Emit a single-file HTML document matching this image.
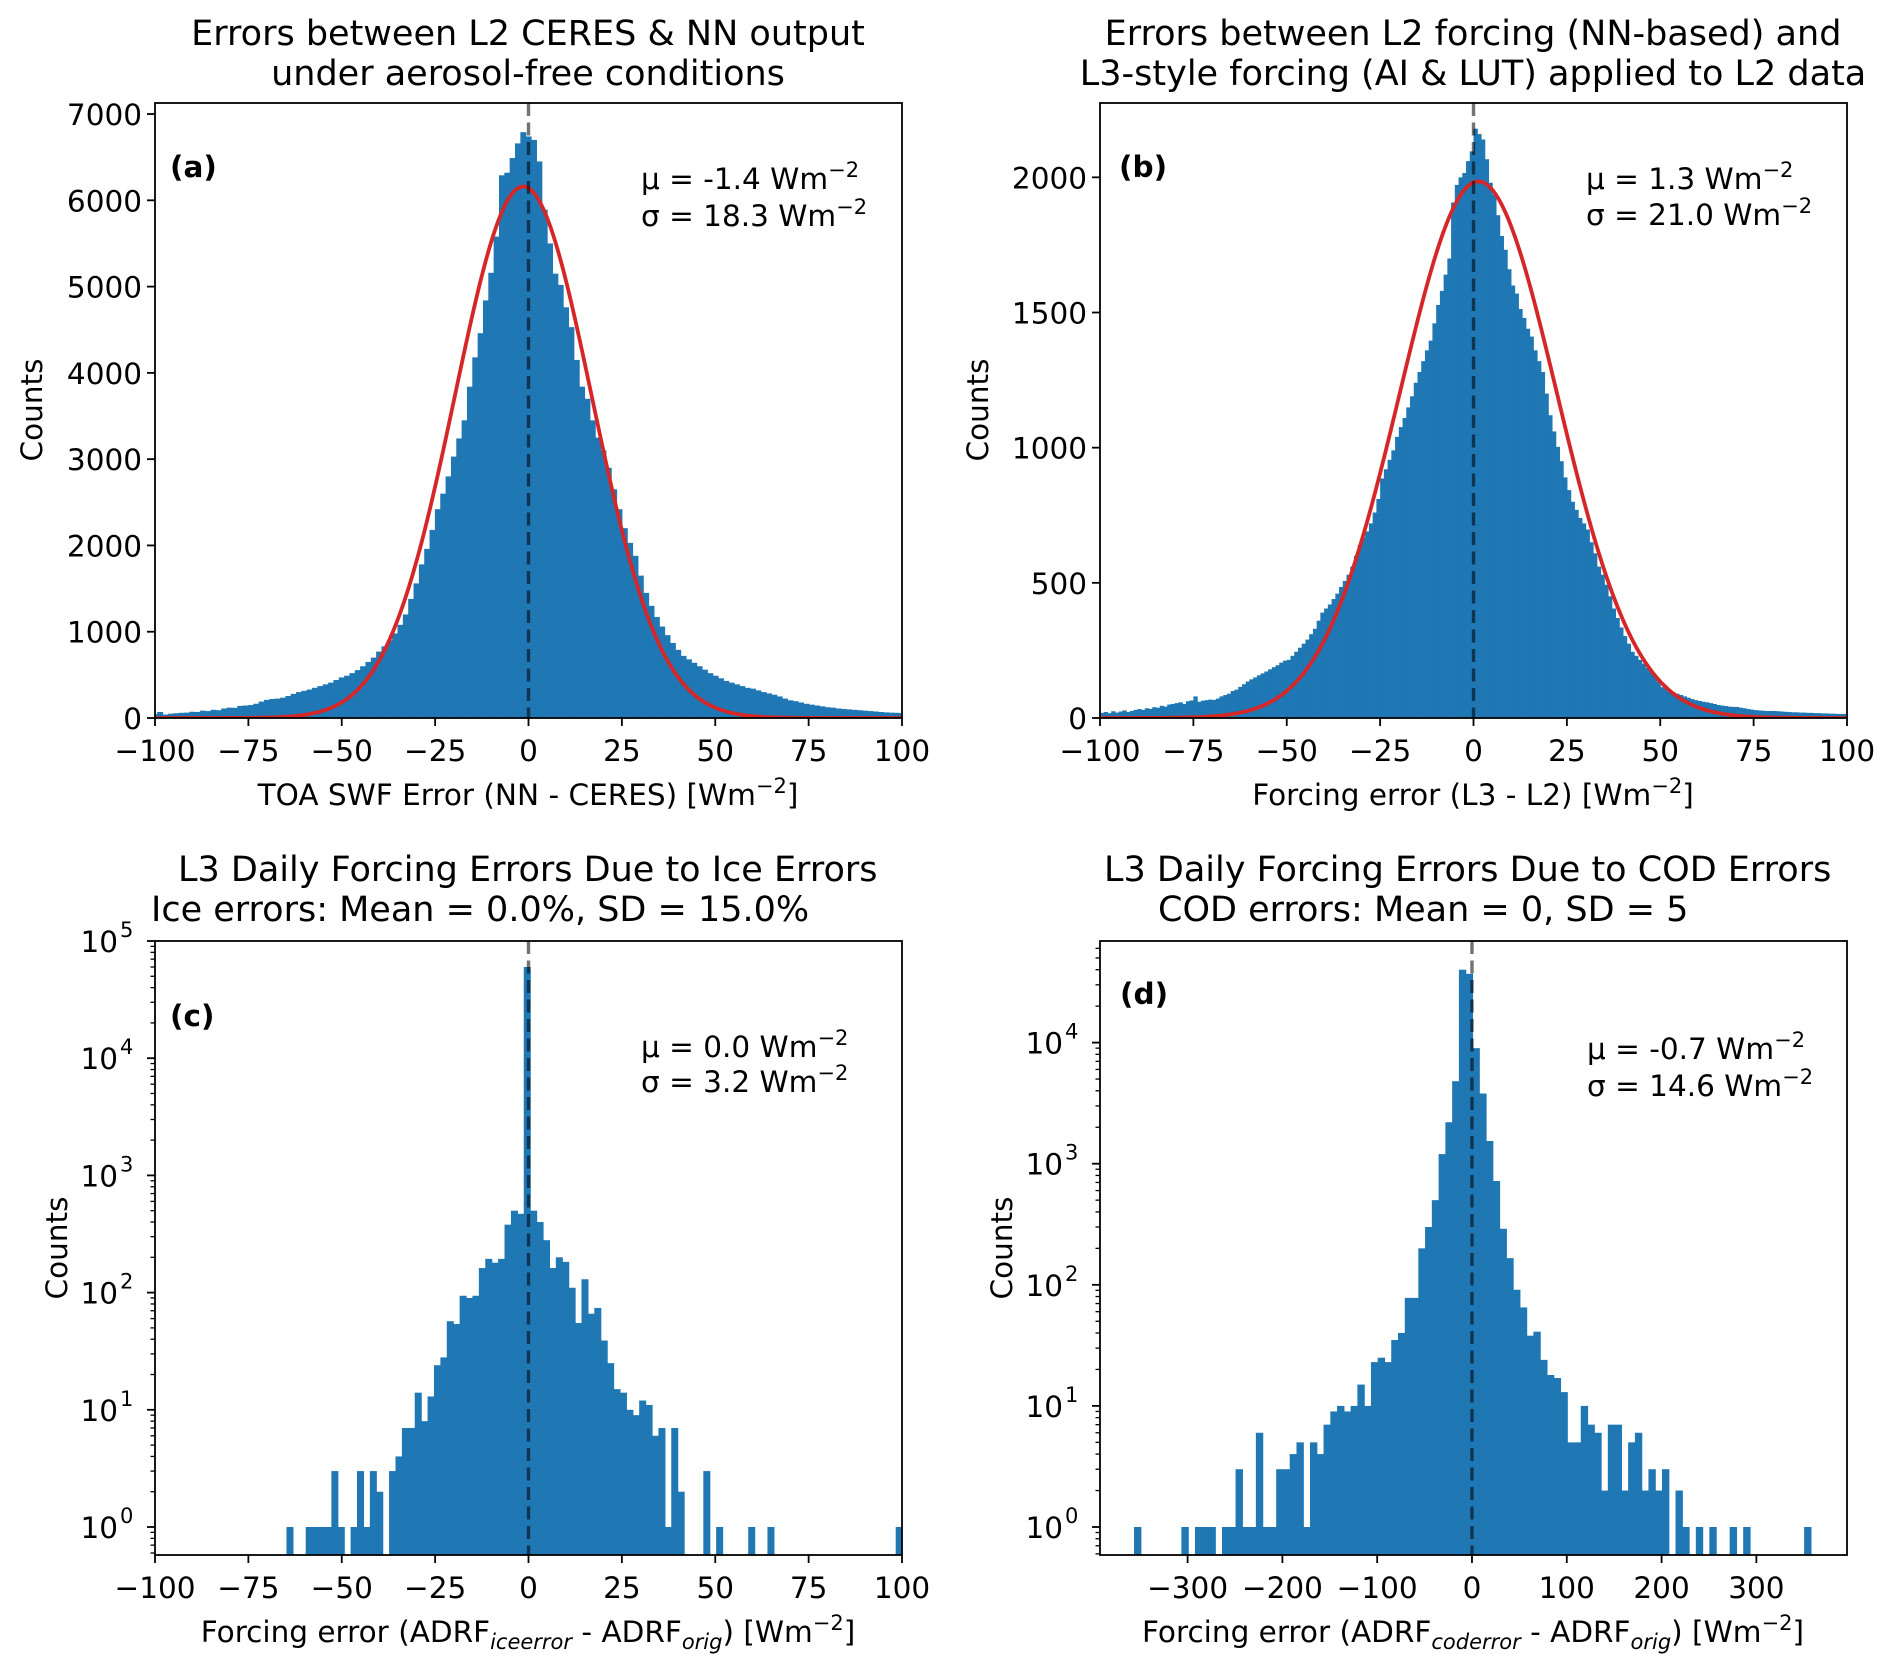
<!DOCTYPE html>
<html><head><meta charset="utf-8"><style>
html,body{margin:0;padding:0;background:#fff;}
svg{display:block;font-family:"DejaVu Sans","Liberation Sans",sans-serif;}
</style></head><body>
<svg id="fig" xmlns="http://www.w3.org/2000/svg" width="1892" height="1671" viewBox="0 0 1892 1671">
<rect width="1892" height="1671" fill="#fff"/>
<defs>
<clipPath id="ca"><rect x="155" y="103" width="747" height="615"/></clipPath>
<clipPath id="cb"><rect x="1100" y="103" width="747" height="615"/></clipPath>
<clipPath id="cc"><rect x="155" y="941" width="747" height="614"/></clipPath>
<clipPath id="cd"><rect x="1100" y="941" width="747" height="614"/></clipPath>
</defs>
<g font-size="35" text-anchor="middle" fill="#000">
<text x="528" y="45">Errors between L2 CERES &amp; NN output</text>
<text x="528" y="85">under aerosol-free conditions</text></g>
<g font-size="35" text-anchor="middle" fill="#000">
<text x="1473" y="45">Errors between L2 forcing (NN-based) and</text>
<text x="1473" y="85">L3-style forcing (AI &amp; LUT) applied to L2 data</text></g>
<g font-size="35" fill="#000">
<text x="178" y="881">L3 Daily Forcing Errors Due to Ice Errors</text>
<text x="151" y="921">Ice errors: Mean = 0.0%, SD = 15.0%</text></g>
<g font-size="35" fill="#000">
<text x="1104" y="881">L3 Daily Forcing Errors Due to COD Errors</text>
<text x="1158" y="921">COD errors: Mean = 0, SD = 5</text></g>
<g><text x="528" y="805" font-size="29.5" text-anchor="middle">TOA SWF Error (NN - CERES) [Wm<tspan dy="-12" font-size="21">−2</tspan><tspan dy="12">]</tspan></text></g>
<g><text x="1473" y="805" font-size="29.5" text-anchor="middle">Forcing error (L3 - L2) [Wm<tspan dy="-12" font-size="21">−2</tspan><tspan dy="12">]</tspan></text></g>
<g><text x="528" y="1642" font-size="29.5" text-anchor="middle">Forcing error (ADRF<tspan dy="7" font-size="21" font-style="italic">iceerror</tspan><tspan dy="-7"> - ADRF</tspan><tspan dy="7" font-size="21" font-style="italic">orig</tspan><tspan dy="-7">) [Wm</tspan><tspan dy="-12" font-size="21">−2</tspan><tspan dy="12">]</tspan></text></g>
<g><text x="1473" y="1642" font-size="29.5" text-anchor="middle">Forcing error (ADRF<tspan dy="7" font-size="21" font-style="italic">coderror</tspan><tspan dy="-7"> - ADRF</tspan><tspan dy="7" font-size="21" font-style="italic">orig</tspan><tspan dy="-7">) [Wm</tspan><tspan dy="-12" font-size="21">−2</tspan><tspan dy="12">]</tspan></text></g>
<text font-size="29.5" text-anchor="middle" transform="translate(42,410) rotate(-90)">Counts</text>
<text font-size="29.5" text-anchor="middle" transform="translate(988,410) rotate(-90)">Counts</text>
<text font-size="29.5" text-anchor="middle" transform="translate(67,1248) rotate(-90)">Counts</text>
<text font-size="29.5" text-anchor="middle" transform="translate(1012,1248) rotate(-90)">Counts</text>
<text x="170" y="177" font-size="29.5" font-weight="bold">(a)</text>
<text x="1119" y="177" font-size="29.5" font-weight="bold">(b)</text>
<text x="170" y="1026" font-size="29.5" font-weight="bold">(c)</text>
<text x="1120" y="1004" font-size="29.5" font-weight="bold">(d)</text>
<g font-size="29.5">
<text x="641" y="189">μ = -1.4 Wm<tspan dy="-12" font-size="21">−2</tspan></text>
<text x="641" y="226">σ = 18.3 Wm<tspan dy="-12" font-size="21">−2</tspan></text></g>
<g font-size="29.5">
<text x="1586" y="189">μ = 1.3 Wm<tspan dy="-12" font-size="21">−2</tspan></text>
<text x="1586" y="225">σ = 21.0 Wm<tspan dy="-12" font-size="21">−2</tspan></text></g>
<g font-size="29.5">
<text x="641" y="1057">μ = 0.0 Wm<tspan dy="-12" font-size="21">−2</tspan></text>
<text x="641" y="1092">σ = 3.2 Wm<tspan dy="-12" font-size="21">−2</tspan></text></g>
<g font-size="29.5">
<text x="1587" y="1059">μ = -0.7 Wm<tspan dy="-12" font-size="21">−2</tspan></text>
<text x="1587" y="1096">σ = 14.6 Wm<tspan dy="-12" font-size="21">−2</tspan></text></g>
</svg>
<script>
// ---- Panel (a) data ----
const aBinStart = -100.85;
const aBinWidth = 1.43;
const aCounts = [45,70,40,50,55,60,62,72,70,85,80,95,90,110,120,118,140,145,150,165,190,210,220,225,235,255,280,300,315,330,350,370,390,410,440,470,490,520,555,600,650,700,770,830,900,980,1080,1200,1380,1560,1780,1960,2180,2420,2600,2800,3030,3240,3450,3840,4180,4460,4840,5160,5580,6290,6320,6490,6660,6790,6740,6700,6450,5890,5500,5150,5020,4760,4530,4150,3840,3700,3450,3250,3100,2900,2650,2420,2200,2030,1880,1650,1450,1300,1170,1060,960,870,790,720,680,640,600,560,520,490,460,430,410,390,370,350,340,320,300,285,270,250,225,205,195,180,165,155,145,135,125,120,110,105,100,95,90,85,80,75,70,65,62,60,55];
const aFit = [-1.4, 18.3, 6160];
const aYTicks = [0,1000,2000,3000,4000,5000,6000,7000];
const aXTicks = [-100,-75,-50,-25,0,25,50,75,100];
// ---- Panel (b) data ----
const bBinStart = -100;
const bBinWidth = 1;
const bCounts = [19,22,18,25,20,24,28,22,26,30,33,30,36,34,40,38,45,42,50,52,55,58,52,62,65,80,60,64,66,68,67,72,80,85,90,100,105,115,125,135,143,150,158,165,172,180,188,195,205,212,215,230,245,260,275,290,310,330,360,390,405,420,440,460,485,507,530,560,600,640,668,690,720,760,810,886,920,955,990,1040,1076,1110,1149,1190,1240,1280,1320,1360,1396,1460,1528,1580,1640,1700,1907,1972,2000,2016,2060,2096,2180,2160,2140,2067,1980,1936,1860,1783,1732,1660,1600,1570,1513,1480,1440,1411,1360,1320,1280,1200,1120,1060,1003,950,890,843,800,770,740,720,697,650,609,560,530,493,450,405,370,335,303,275,245,230,215,201,185,170,157,135,114,108,100,95,90,85,80,75,70,66,63,60,58,55,52,48,46,44,42,41,41,38,36,33,31,29,28,27,26,26,26,25,24,23,22,21,21,20,20,19,19,18,18,17,17,16,16,15,15,15];
const bFit = [1.3, 21.0, 1985];
const bYTicks = [0,500,1000,1500,2000];
const bXTicks = [-100,-75,-50,-25,0,25,50,75,100];
// ---- Panel (c) data ----
const cBinStart = -64.8;
const cBinWidth = 1.717;
const cCounts = [1,0,0,1,1,1,1,3,1,0,1,3,1,3,2,0,3,4,7,7,14,8,13,24,28,57,54,94,90,94,162,194,180,194,380,500,470,60000,500,400,280,162,200,183,110,55,130,66,74,39,25,15,14,10,9,12,11,6,7,1,7,2,0,0,0,3,0,1,0,0,0,0,1,0,0,1,0,0,0,0,0,0,0,0,0,0,0,0,0,0,0,0,0,0,0,1];
const cXTicks = [-100,-75,-50,-25,0,25,50,75,100];
const cYExps = [0,1,2,3,4,5];
// ---- Panel (d) data ----
const dBinStart = -356.5;
const dBinWidth = 7.14;
const dCounts = [1,0,0,0,0,0,0,1,0,1,1,1,0,1,1,3,1,1,6,1,1,3,3,4,5,1,5,4,7,9,10,9,10,15,10,23,25,23,35,40,78,78,200,300,500,1200,2200,4800,40000,37000,9000,3800,1540,720,290,166,91,65,38,41,24,18,17,13,5,5,10,7,6,2,7,7,2,5,6,2,3,2,3,0,2,1,0,1,0,1,0,0,1,0,1,0,0,0,0,0,0,0,0,1];
const dXTicks = [-300,-200,-100,0,100,200,300];
const dYExps = [0,1,2,3,4];

const NS = 'http://www.w3.org/2000/svg';
const svg = document.getElementById('fig');
function mk(tag, attrs, parent){ const e=document.createElementNS(NS,tag); for(const k in attrs) e.setAttribute(k,attrs[k]); (parent||svg).appendChild(e); return e; }
function linScale(d0,d1,r0,r1){ return v => r0+(v-d0)*(r1-r0)/(d1-d0); }
function logScale(e0,e1,r0,r1){ return v => r0+(Math.log10(v)-e0)*(r1-r0)/(e1-e0); }

const panels = [
 {id:'a', box:[155,103,902,718], clip:'ca', xs:linScale(-100,100,155,902), ys:linScale(0,7128,718,103), log:false, start:aBinStart, w:aBinWidth, counts:aCounts, fit:aFit, xt:aXTicks, yt:aYTicks},
 {id:'b', box:[1100,103,1847,718], clip:'cb', xs:linScale(-100,100,1100,1847), ys:linScale(0,2275,718,103), log:false, start:bBinStart, w:bBinWidth, counts:bCounts, fit:bFit, xt:bXTicks, yt:bYTicks},
 {id:'c', box:[155,941,902,1555], clip:'cc', xs:linScale(-100,100,155,902), ys:logScale(0,5,1527,941), log:true, lo:-0.239, hi:5, start:cBinStart, w:cBinWidth, counts:cCounts, xt:cXTicks, yt:cYExps},
 {id:'d', box:[1100,941,1847,1555], clip:'cd', xs:linScale(-392.4,395.6,1100,1847), ys:logScale(0,4,1527,1042.6), log:true, lo:-0.23, hi:4.84, start:dBinStart, w:dBinWidth, counts:dCounts, xt:dXTicks, yt:dYExps}
];

panels.forEach(p => {
  const [L,T,R,B] = p.box;
  const g = mk('g', {'clip-path':'url(#'+p.clip+')'});
  
  
  p.counts.forEach((c,i) => {
    if (c <= 0) return;
    const x0 = p.xs(p.start + i*p.w), x1 = p.xs(p.start + (i+1)*p.w);
    const y = p.ys(c);
    const r = mk('rect', {x:x0, y:y, width:(x1-x0)+0.6, height:Math.max(0,B-y), fill:'#1f77b4'}, g);
    
    
  });
  if (p.fit) {
    const [mu, sd, amp] = p.fit;
    let d = '';
    for (let v=-100; v<=100; v+=0.5) {
      const yv = amp*Math.exp(-0.5*((v-mu)/sd)**2);
      d += (d?'L':'M') + p.xs(v).toFixed(2) + ',' + p.ys(yv).toFixed(2);
    }
    const path = mk('path', {d:d, fill:'none', stroke:'#d62728', 'stroke-width':3.8}, g);
    
    
  }
  const zl = mk('line', {x1:p.xs(0), x2:p.xs(0), y1:T, y2:B, stroke:'rgba(0,0,0,0.55)', 'stroke-width':3.4, 'stroke-dasharray':'13,6.5'}, g);
  
  
  const fr = mk('rect', {x:L, y:T, width:R-L, height:B-T, fill:'none', stroke:'#000', 'stroke-width':1.8});
  
  
  const xg = mk('g', {});
  
  
  p.xt.forEach(v => {
    const x = p.xs(v);
    mk('line', {x1:x, x2:x, y1:B, y2:B+8, stroke:'#000', 'stroke-width':1.8}, xg);
    const t = mk('text', {x:x, y:B+43, 'font-size':29.5, 'text-anchor':'middle'}, xg);
    t.textContent = v < 0 ? '\u2212'+Math.abs(v) : String(v);
  });
  const yg = mk('g', {});
  
  
  if (!p.log) {
    p.yt.forEach(v => {
      const y = p.ys(v);
      mk('line', {x1:L-8, x2:L, y1:y, y2:y, stroke:'#000', 'stroke-width':1.8}, yg);
      const t = mk('text', {x:L-13, y:y+11, 'font-size':29.5, 'text-anchor':'end'}, yg);
      t.textContent = String(v);
    });
  } else {
    p.yt.forEach(e => {
      const y = p.ys(Math.pow(10,e));
      mk('line', {x1:L-8, x2:L, y1:y, y2:y, stroke:'#000', 'stroke-width':1.8}, yg);
      const t = mk('text', {x:L-37, y:y+11, 'font-size':29.5, 'text-anchor':'end'}, yg);
      t.textContent = '10';
      const s = mk('text', {x:L-35, y:y-4, 'font-size':21, 'text-anchor':'start'}, yg);
      s.textContent = String(e);
    });
    for (let e=Math.floor(p.lo); e<=Math.ceil(p.hi); e++) {
      for (let m=2; m<=9; m++) {
        const lv = e + Math.log10(m);
        if (lv < p.lo || lv > p.hi) continue;
        const y = p.ys(m*Math.pow(10,e));
        mk('line', {x1:L-4.5, x2:L, y1:y, y2:y, stroke:'#000', 'stroke-width':1.3}, yg);
      }
    }
  }
});
</script>
</body></html>
